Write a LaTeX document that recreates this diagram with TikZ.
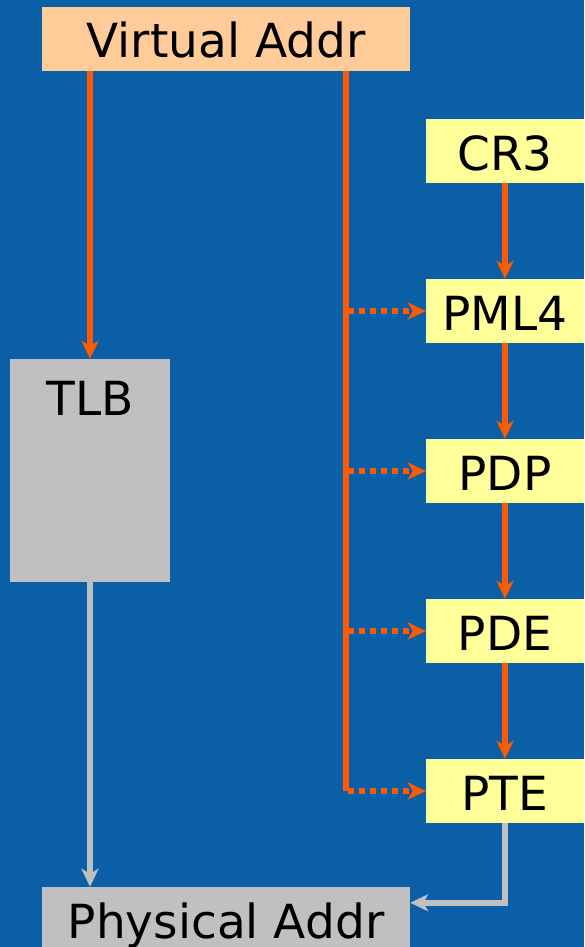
\documentclass[tikz,border=0pt]{standalone}
\usepackage{fontspec}
\setmainfont{DejaVu Sans}
\usetikzlibrary{arrows.meta,calc}
\definecolor{bgblue}{HTML}{0B5FA7}
\definecolor{orangeA}{HTML}{FF5A00}
\definecolor{peach}{HTML}{FFCC99}
\definecolor{paleyellow}{HTML}{FFFF99}
\definecolor{greyA}{HTML}{C0C0C0}
\tikzset{
  bigfont/.style={font=\fontsize{47}{50}\selectfont},
  box/.style={rectangle, inner sep=0pt, minimum height=64pt, bigfont, text=black,
    text height=38pt, text depth=0pt},
  wide/.style={box, minimum width=368pt},
  ybox/.style={box, fill=paleyellow, minimum width=158pt},
  tip/.style={-{Stealth[length=18pt,width=17pt,inset=5pt]}},
  oline/.style={draw=orangeA, line width=5.5pt},
  oarrow/.style={oline, tip},
  odots/.style={oline, tip, dash pattern=on 6pt off 5pt},
  garrow/.style={draw=greyA, line width=5.5pt, tip},
}
\begin{document}
\begin{tikzpicture}[x=1pt,y=-1pt]
\fill[bgblue] (0,0) rectangle (584,947);
\useasboundingbox (0,0) rectangle (584,947);
\clip (0,0) rectangle (584,947);
\node[wide, fill=peach] (va) at (226,39) {Virtual Addr};
\node[rectangle, inner sep=0pt, fill=greyA, minimum width=160pt, minimum height=223pt] (tlb) at (90,470.5) {};
\node[bigfont, inner sep=0pt] (tlbtext) at (90,398) {TLB};
\node[ybox] (cr3) at (505,151) {CR3};
\node[ybox] (pml4) at (505,311) {PML4};
\node[ybox] (pdp) at (505,471) {PDP};
\node[ybox] (pde) at (505,631) {PDE};
\node[ybox] (pte) at (505,791) {PTE};
\node[wide, fill=greyA] (pa) at (226,919) {Physical Addr};
\coordinate (trunk) at (346,0);
\coordinate (pain) at ($(pa.north east)+(0,16)$);
% orange connectors
\draw[oarrow] (tlb.north |- va.south) -- (tlb.north);
\draw[oline] (trunk |- va.south) -- (trunk |- pte.west);
\draw[odots] ($(trunk |- pml4.west)+(2,0)$) -- (pml4.west);
\draw[odots] ($(trunk |- pdp.west)+(2,0)$) -- (pdp.west);
\draw[odots] ($(trunk |- pde.west)+(2,0)$) -- (pde.west);
\draw[odots] ($(trunk |- pte.west)+(2,0)$) -- (pte.west);
\draw[oarrow] (cr3.south) -- (pml4.north);
\draw[oarrow] (pml4.south) -- (pdp.north);
\draw[oarrow] (pdp.south) -- (pde.north);
\draw[oarrow] (pde.south) -- (pte.north);
% grey connectors
\draw[garrow] (tlb.south) -- (tlb.south |- pa.north);
\draw[garrow] (pte.south) |- (pain);
\end{tikzpicture}
\end{document}
